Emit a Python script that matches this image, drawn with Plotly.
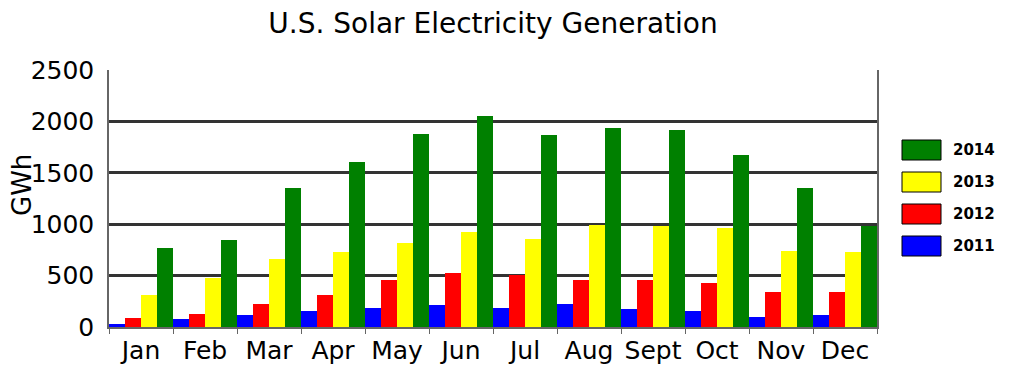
import plotly.graph_objects as go

months = ["Jan", "Feb", "Mar", "Apr", "May", "Jun", "Jul", "Aug", "Sept", "Oct", "Nov", "Dec"]
gen_2011 = [33, 78, 114, 160, 183, 215, 183, 222, 179, 153, 101, 114]
gen_2012 = [88, 127, 225, 313, 456, 521, 505, 456, 453, 427, 342, 345]
gen_2013 = [310, 479, 662, 727, 821, 922, 857, 997, 978, 965, 743, 730]
gen_2014 = [769, 851, 1349, 1604, 1874, 2057, 1868, 1933, 1920, 1672, 1349, 978]

years = ["2011", "2012", "2013", "2014"]
colors = ["#0000ff", "#ff0000", "#ffff00", "#008000"]
series = [gen_2011, gen_2012, gen_2013, gen_2014]

fig = go.Figure()
for yr, col, vals in zip(years, colors, series):
    fig.add_trace(go.Bar(x=months, y=vals, name=yr, marker=dict(color=col, line=dict(width=0)),
                         showlegend=False))

# plot area in page pixels: x 109..877, y 70..327 (page has 8px body margin)
PX0, PX1, PY0, PY1 = 109, 877, 70, 327
PW, PH = PX1 - PX0, PY1 - PY0

shapes = []
annotations = []
box_x0, box_x1 = 902, 941
for i, (yr, col) in enumerate(zip(years[::-1], colors[::-1])):
    y0 = 140 + 32 * i
    shapes.append(dict(type="rect", xref="paper", yref="paper",
                       x0=(box_x0 - PX0) / PW, x1=(box_x1 - PX0) / PW,
                       y0=(PY1 - y0) / PH, y1=(PY1 - (y0 + 20)) / PH,
                       fillcolor=col, line=dict(color="black", width=1)))
    annotations.append(dict(xref="paper", yref="paper", x=(951 - PX0) / PW,
                            y=(PY1 - (y0 + 10)) / PH, text="<b>%s</b>" % yr,
                            showarrow=False, xanchor="left", yanchor="middle",
                            font=dict(family="DejaVu Sans", size=15, color="black")))

# y-axis title placed as a rotated annotation
annotations.append(dict(xref="paper", yref="paper", x=(22 - PX0) / PW, y=(PY1 - 185) / PH,
                        text="GWh", textangle=-90, showarrow=False,
                        xanchor="center", yanchor="middle",
                        font=dict(family="DejaVu Sans", size=26, color="black")))

W, H = 1016, 376
fig.update_layout(
    width=W, height=H,
    margin=dict(l=PX0 - 8, r=W - (PX1 - 8), t=PY0 - 8, b=H - (PY1 - 8)),
    paper_bgcolor="white", plot_bgcolor="white",
    barmode="group", bargap=0, bargroupgap=0,
    title=dict(text="U.S. Solar Electricity Generation", x=(493 - 8) / W, xanchor="center",
               y=1 - (23 - 8) / H, yanchor="middle",
               font=dict(family="DejaVu Sans", size=28, color="black")),
    font=dict(family="DejaVu Sans", color="black"),
    shapes=shapes, annotations=annotations,
)
fig.update_xaxes(showline=True, linecolor="#666666", linewidth=1.5, showgrid=False,
                 ticks="outside", tickson="boundaries", ticklen=5, tickcolor="#666666",
                 tickangle=0, automargin=False,
                 tickfont=dict(size=25, family="DejaVu Sans", color="black"))
fig.update_yaxes(range=[0, 2500], dtick=500, showline=True, mirror=True, linecolor="#666666",
                 linewidth=1.5, showgrid=True, gridcolor="#333333", gridwidth=2.5, zeroline=False,
                 ticks="", ticklabelstandoff=8, automargin=False,
                 tickfont=dict(size=25, family="DejaVu Sans", color="black"))

fig.write_html("out.html")
